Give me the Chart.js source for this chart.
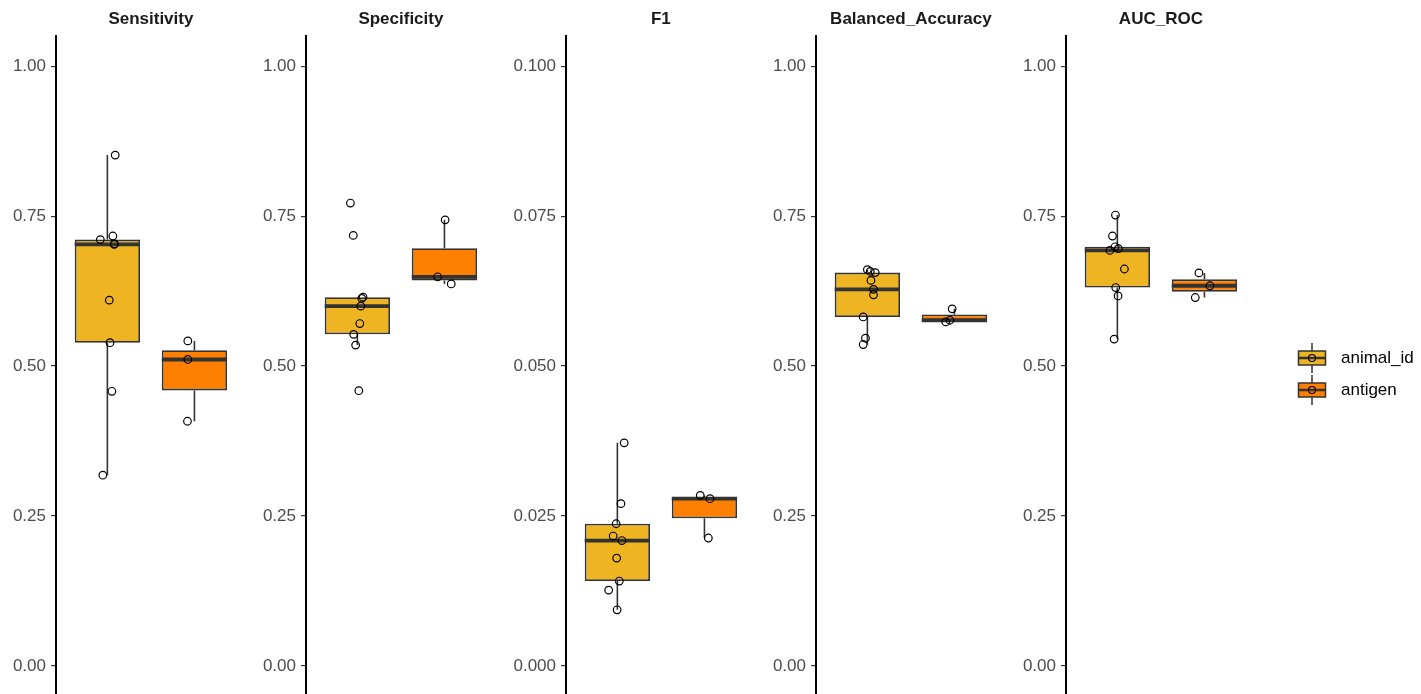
<!DOCTYPE html>
<html>
<head>
<meta charset="utf-8">
<script src="https://cdn.jsdelivr.net/npm/chart.js@4.4.1/dist/chart.umd.min.js"></script>
<style>
  html, body { margin: 0; padding: 0; background: #fff; overflow: hidden; width: 1421px; height: 694px; }
  #wrap { position: relative; width: 1421px; height: 694px; overflow: hidden; }
  canvas.panel { position: absolute; top: 0; }
  #legend { position: absolute; left: 1297px; top: 342px; font-family: 'Liberation Sans', Arial, sans-serif; font-size: 17px; color: #000; }
  .key { display: flex; align-items: center; height: 32px; }
  .key canvas { margin-right: 14px; }
</style>
</head>
<body>
<div id="wrap"><div id="legend"></div></div>
<script>
// ── Data ──────────────────────────────────────────────────────
const METRICS = ['Sensitivity', 'Specificity', 'F1', 'Balanced_Accuracy', 'AUC_ROC'];
const GROUPS  = ['animal_id', 'antigen'];
const COLORS  = ['#EEB422', '#FF7F00'];

const UNIT_TICKS = [0, 0.25, 0.5, 0.75, 1];
const F1_TICKS   = [0, 0.025, 0.05, 0.075, 0.1];

// values per fold, and the horizontal jitter each point got (in group units)
const SENS_ANIMAL     = [0.852, 0.717, 0.711, 0.704, 0.703, 0.610, 0.539, 0.458, 0.318];
const SENS_ANIMAL_JIT = [0.09, 0.063, -0.081, 0.081, 0.078, 0.022, 0.03, 0.052, -0.052];
const SENS_ANTIGEN     = [0.542, 0.511, 0.408];
const SENS_ANTIGEN_JIT = [-0.076, -0.076, -0.08];

const SPEC_ANIMAL     = [0.772, 0.718, 0.615, 0.613, 0.600, 0.571, 0.553, 0.535, 0.459];
const SPEC_ANIMAL_JIT = [-0.08, -0.047, 0.065, 0.05, 0.039, 0.028, -0.042, -0.02, 0.017];
const SPEC_ANTIGEN     = [0.744, 0.649, 0.637];
const SPEC_ANTIGEN_JIT = [0.008, -0.078, 0.078];

const F1_ANIMAL     = [0.0372, 0.02705, 0.0237, 0.02165, 0.0209, 0.01797, 0.01414, 0.01263, 0.00935];
const F1_ANIMAL_JIT = [0.078, 0.041, -0.014, -0.048, 0.052, -0.008, 0.022, -0.1, -0.003];
const F1_ANTIGEN     = [0.02843, 0.02788, 0.02132];
const F1_ANTIGEN_JIT = [-0.048, 0.064, 0.045];

const BA_ANIMAL     = [0.661, 0.658, 0.656, 0.643, 0.628, 0.619, 0.582, 0.5465, 0.536];
const BA_ANIMAL_JIT = [0, 0.033, 0.09, 0.041, 0.071, 0.071, -0.048, -0.022, -0.048];
const BA_ANTIGEN     = [0.5955, 0.5765, 0.5737];
const BA_ANTIGEN_JIT = [-0.026, -0.052, -0.1];

const AUC_ANIMAL     = [0.752, 0.717, 0.699, 0.696, 0.693, 0.662, 0.631, 0.617, 0.545];
const AUC_ANIMAL_JIT = [-0.022, -0.056, -0.026, 0.011, -0.086, 0.081, -0.019, 0.008, -0.037];
const AUC_ANTIGEN     = [0.6555, 0.634, 0.6144];
const AUC_ANTIGEN_JIT = [-0.063, 0.063, -0.105];

// ── Layout ────────────────────────────────────────────────────
const FONT = "'Liberation Sans', Arial, sans-serif";
const PANEL_LEFT = [0, 250, 510, 760, 1010];
const AXIS_W = 56, PLOT_W = 195, CANVAS_H = 701;
const GROUP_POS = [1, 2];
const X_MIN = 0.41, X_MAX = 2.59, BOX_HALF = 0.375;
const LINE = '#333333';

const PANELS = [
  { values: [SENS_ANIMAL, SENS_ANTIGEN], jitter: [SENS_ANIMAL_JIT, SENS_ANTIGEN_JIT], ticks: UNIT_TICKS, digits: 2 },
  { values: [SPEC_ANIMAL, SPEC_ANTIGEN], jitter: [SPEC_ANIMAL_JIT, SPEC_ANTIGEN_JIT], ticks: UNIT_TICKS, digits: 2 },
  { values: [F1_ANIMAL, F1_ANTIGEN],     jitter: [F1_ANIMAL_JIT, F1_ANTIGEN_JIT],     ticks: F1_TICKS,   digits: 3 },
  { values: [BA_ANIMAL, BA_ANTIGEN],     jitter: [BA_ANIMAL_JIT, BA_ANTIGEN_JIT],     ticks: UNIT_TICKS, digits: 2 },
  { values: [AUC_ANIMAL, AUC_ANTIGEN],   jitter: [AUC_ANIMAL_JIT, AUC_ANTIGEN_JIT],   ticks: UNIT_TICKS, digits: 2 }
];

// ── Box statistics (R type-7 quantiles, Tukey whiskers) ───────
function quantile(sorted, p) {
  const h = (sorted.length - 1) * p;
  const lo = Math.floor(h);
  const hi = Math.min(lo + 1, sorted.length - 1);
  return sorted[lo] + (h - lo) * (sorted[hi] - sorted[lo]);
}

function boxStats(vals) {
  const s = [...vals].sort((a, b) => a - b);
  const q1 = quantile(s, 0.25), med = quantile(s, 0.5), q3 = quantile(s, 0.75);
  const iqr = q3 - q1;
  const inside = s.filter(v => v >= q1 - 1.5 * iqr && v <= q3 + 1.5 * iqr);
  return { q1, med, q3, lo: Math.min(q1, inside[0]), hi: Math.max(q3, inside[inside.length - 1]) };
}

// ── Panels ────────────────────────────────────────────────────
function buildPanel(idx) {
  const p = PANELS[idx];
  const span = p.ticks[p.ticks.length - 1] - p.ticks[0];
  const stats = p.values.map(boxStats);

  const canvas = document.createElement('canvas');
  canvas.className = 'panel';
  canvas.width = AXIS_W + PLOT_W;
  canvas.height = CANVAS_H;
  canvas.style.left = PANEL_LEFT[idx] + 'px';
  canvas.style.width = canvas.width + 'px';
  canvas.style.height = CANVAS_H + 'px';
  document.getElementById('wrap').appendChild(canvas);

  const datasets = [];

  // jittered points
  p.values.forEach((vals, g) => {
    datasets.push({
      type: 'scatter',
      data: vals.map((v, k) => ({ x: GROUP_POS[g] + p.jitter[g][k], y: v })),
      pointRadius: 3.8,
      pointBorderWidth: 1.2,
      pointBorderColor: '#000',
      pointBackgroundColor: 'rgba(0,0,0,0)',
      order: 0
    });
  });

  // medians and whiskers
  stats.forEach((st, g) => {
    const x = GROUP_POS[g];
    datasets.push({
      type: 'line',
      data: [{ x: x - BOX_HALF, y: st.med }, { x: x + BOX_HALF, y: st.med }],
      borderColor: LINE, borderWidth: 3.8, pointRadius: 0, fill: false, order: 1
    });
    datasets.push({
      type: 'line',
      data: [{ x, y: st.lo }, { x, y: st.q1 }, { x, y: null }, { x, y: st.q3 }, { x, y: st.hi }],
      borderColor: LINE, borderWidth: 1.6, pointRadius: 0, fill: false, spanGaps: false, order: 2
    });
  });

  // boxes
  datasets.push({
    type: 'bar',
    data: stats.map((st, g) => ({ x: GROUP_POS[g], y: [st.q1, st.q3] })),
    backgroundColor: COLORS,
    borderColor: LINE,
    borderWidth: 1.8,
    borderSkipped: false,
    categoryPercentage: 0.75,
    barPercentage: 1,
    order: 3
  });

  new Chart(canvas, {
    type: 'scatter',
    data: { datasets },
    options: {
      responsive: false,
      animation: false,
      devicePixelRatio: 1,
      events: [],
      layout: { padding: 0 },
      plugins: {
        legend: { display: false },
        tooltip: { enabled: false },
        title: {
          display: true,
          text: METRICS[idx],
          fullSize: false,
          color: '#1a1a1a',
          font: { family: FONT, size: 17, weight: 'bold' },
          padding: { top: 9, bottom: 7 }
        }
      },
      scales: {
        x: {
          type: 'linear',
          display: false,
          offset: false,
          min: X_MIN,
          max: X_MAX,
          grid: { offset: false },
          afterBuildTicks: s => { s.ticks = GROUP_POS.map(v => ({ value: v })); }
        },
        y: {
          type: 'linear',
          min: p.ticks[0] - span * 0.05,
          max: p.ticks[p.ticks.length - 1] + span * 0.05,
          afterBuildTicks: s => { s.ticks = p.ticks.map(v => ({ value: v })); },
          afterFit: s => { s.width = AXIS_W; s.paddingTop = 0; s.paddingBottom = 0; },
          ticks: {
            autoSkip: false,
            padding: 5,
            color: '#4d4d4d',
            font: { family: FONT, size: 17 },
            callback: v => Number(v).toFixed(p.digits)
          },
          grid: { display: true, drawOnChartArea: false, drawTicks: true, tickLength: 5, color: LINE, lineWidth: 1.2 },
          border: { display: true, color: '#000', width: 2 }
        }
      }
    }
  });
}

// ── Legend ────────────────────────────────────────────────────
function buildLegend() {
  const box = document.getElementById('legend');
  GROUPS.forEach((name, g) => {
    const row = document.createElement('div');
    row.className = 'key';
    const icon = document.createElement('canvas');
    icon.width = 30; icon.height = 30;
    const ctx = icon.getContext('2d');
    ctx.strokeStyle = LINE;
    ctx.lineWidth = 1.5;
    ctx.beginPath(); ctx.moveTo(15, 0); ctx.lineTo(15, 30); ctx.stroke();
    ctx.fillStyle = COLORS[g];
    ctx.fillRect(1.5, 8, 27, 14);
    ctx.strokeRect(1.5, 8, 27, 14);
    ctx.lineWidth = 2.5;
    ctx.beginPath(); ctx.moveTo(1.5, 15); ctx.lineTo(28.5, 15); ctx.stroke();
    ctx.strokeStyle = '#000';
    ctx.lineWidth = 1.2;
    ctx.beginPath(); ctx.arc(15, 15, 3.5, 0, Math.PI * 2); ctx.stroke();
    const label = document.createElement('span');
    label.textContent = name;
    row.appendChild(icon);
    row.appendChild(label);
    box.appendChild(row);
  });
}

PANELS.forEach((_, i) => buildPanel(i));
buildLegend();
</script>
</body>
</html>
